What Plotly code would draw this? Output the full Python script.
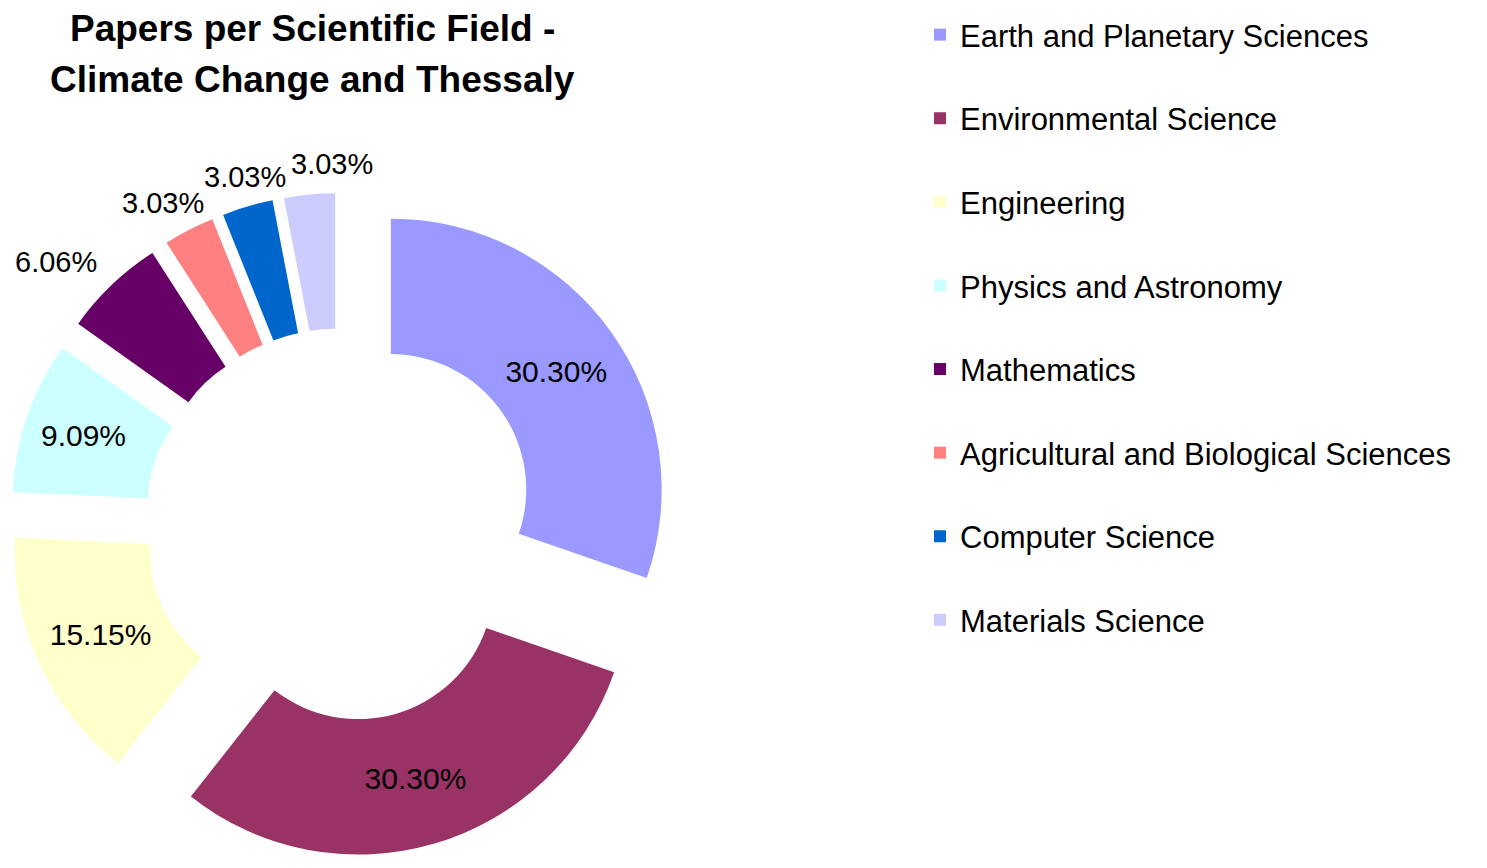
import math
import plotly.graph_objects as go

# ---- data ----
fields = [
    "Earth and Planetary Sciences",
    "Environmental Science",
    "Engineering",
    "Physics and Astronomy",
    "Mathematics",
    "Agricultural and Biological Sciences",
    "Computer Science",
    "Materials Science",
]
papers = [10, 10, 5, 3, 2, 1, 1, 1]
colors = ["#9999FF", "#993366", "#FFFFCC", "#CCFFFF",
          "#660066", "#FF8080", "#0066CC", "#CCCCFF"]
label_pos = ["inside", "inside", "inside", "inside",
             "outside", "outside", "outside", "outside"]
title_lines = ["Papers per Scientific Field -", "Climate Change and Thessaly"]

W, H = 1487, 868
OFF = 8  # page body margin offset
PULL = 0.226
cx, cy, box = 341 - OFF, 525 - OFF, 664  # pie center & square domain (figure px)
domain = dict(x=[(cx - box / 2) / W, (cx + box / 2) / W],
              y=[1 - (cy + box / 2) / H, 1 - (cy - box / 2) / H])
FONT = "Liberation Sans, Arial"
LBL = 29

fig = go.Figure(go.Pie(
    labels=[f + "<br> " for f in fields],
    values=papers, sort=False, direction="clockwise", rotation=0,
    hole=0.5, pull=[PULL] * len(papers), domain=domain, automargin=False,
    marker=dict(colors=colors, line=dict(width=0)),
    texttemplate="%{percent:.2%}",
    textposition=[p if p == "inside" else "none" for p in label_pos],
    insidetextorientation="horizontal",
    insidetextfont=dict(family=FONT, size=30, color="black"),
    hoverinfo="label+percent",
))

# outside-end percentage labels for the small slices, placed from the data
total = sum(papers)
r = box / (2 + 2 * PULL)
cum = 0
for v, pos in zip(papers, label_pos):
    theta = 2 * math.pi * (cum + v / 2) / total
    cum += v
    if pos != "outside":
        continue
    ux, uy = math.sin(theta), -math.cos(theta)
    dist = r * (1 + PULL) + 10
    tw, th = 84, 26  # approx label box size
    px = cx + ux * dist + ux * tw * 1.45 + 35
    py = cy + uy * dist + uy * th * 0.8
    fig.add_annotation(
        text=f"{100 * v / total:.2f}%",
        xref="paper", yref="paper",
        x=px / W, y=1 - py / H,
        xanchor="center", yanchor="middle",
        showarrow=False,
        font=dict(family=FONT, size=LBL, color="black"),
    )

for line, ypx in zip(title_lines, [20, 72]):
    fig.add_annotation(
        text=f"<b>{line}</b>",
        xref="paper", yref="paper",
        x=(312 - OFF) / W, y=1 - ypx / H,
        xanchor="center", yanchor="middle",
        showarrow=False,
        font=dict(family=FONT, size=37, color="black"),
    )

fig.update_layout(
    width=W, height=H,
    margin=dict(l=0, r=0, t=0, b=0),
    paper_bgcolor="white",
    plot_bgcolor="white",
    font=dict(family=FONT, color="black"),
    legend=dict(
        x=912 / W, xanchor="left",
        y=1.0, yanchor="top",
        valign="top",
        maxheight=860,
        font=dict(family=FONT, size=31, color="black"),
        bgcolor="rgba(0,0,0,0)",
    ),
    showlegend=True,
)

fig.write_html("out.html")
